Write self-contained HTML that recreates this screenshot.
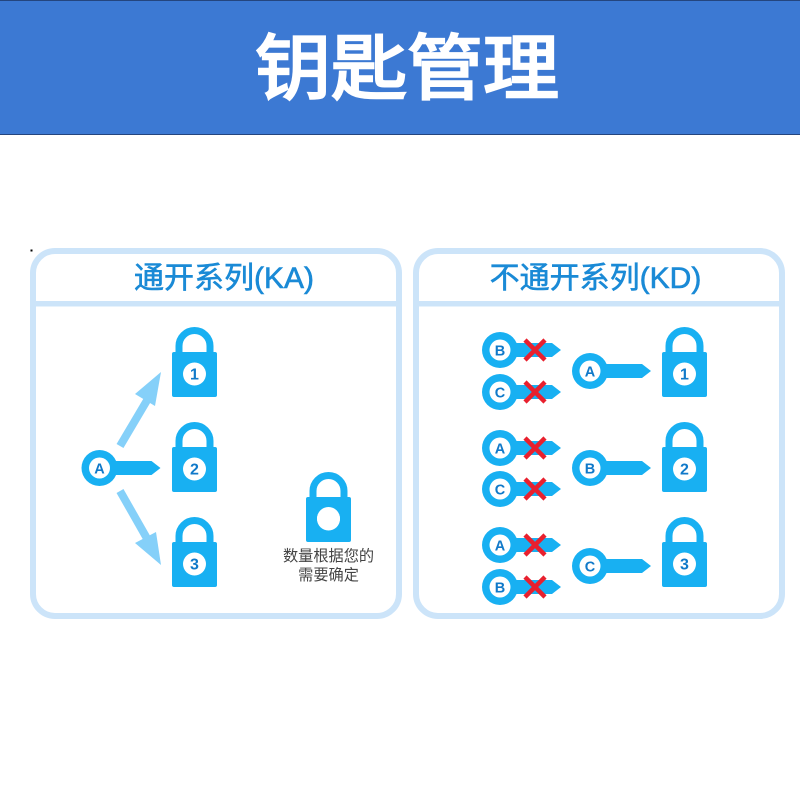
<!DOCTYPE html>
<html><head><meta charset="utf-8">
<style>
html,body{margin:0;padding:0;background:#fff;width:800px;height:800px;overflow:hidden}
svg{display:block}
text{font-family:"Liberation Sans","Noto Sans CJK SC",sans-serif}
.n{font-size:16px;font-weight:700;fill:#1079c9;text-anchor:middle}
.k{font-size:14.500px;font-weight:700;fill:#1079c9;text-anchor:middle}
.t{font-size:30px;font-weight:400;fill:#1a8ad6;stroke:#1a8ad6;stroke-width:.6px;text-anchor:middle}
.c{font-size:15.200px;fill:#444;text-anchor:middle}
</style></head><body>
<svg width="800" height="800" viewBox="0 0 800 800" xmlns="http://www.w3.org/2000/svg">
<defs>
<g id="lock">
<path d="M7 27V19a15.500 15.500 0 0 1 31 0V27" fill="none" stroke="#18b0f2" stroke-width="7"/>
<rect x="0" y="25" width="45" height="45" rx="2" fill="#18b0f2"/>
<circle cx="22.500" cy="47" r="11.500" fill="#fff"/>
</g>
<g id="key">
<circle cx="0" cy="0" r="18" fill="#18b0f2"/>
<path d="M14 -7H52L61 0L52 7H14Z" fill="#18b0f2"/>
<circle cx="0" cy="0" r="10.500" fill="#fff"/>
</g>
<g id="x"><path d="M-10 -10L10 10M10 -10L-10 10" stroke="#e8202e" stroke-width="4.500" fill="none"/></g>
</defs>

<rect x="0" y="0" width="800" height="135" fill="#3c79d3"/>
<rect x="0" y="0" width="800" height="1" fill="#24457e"/>
<rect x="0" y="134" width="800" height="1" fill="#24457e"/>
<text transform="translate(407 93.500) scale(1 .94)" x="0" y="0" text-anchor="middle" style="font-size:76px;font-weight:400;fill:#fff;stroke:#fff;stroke-width:2.600px">钥匙管理</text>

<rect x="33" y="251" width="366" height="365" rx="22" fill="#fff" stroke="#cce4f9" stroke-width="6"/>
<rect x="416" y="251" width="366" height="365" rx="22" fill="#fff" stroke="#cce4f9" stroke-width="6"/>
<rect x="33" y="301" width="366" height="5.500" fill="#cce4f9"/>
<rect x="416" y="301" width="366" height="5.500" fill="#cce4f9"/>
<rect x="30.500" y="249.500" width="2" height="2" fill="#000"/>

<text class="t" x="224" y="288">通开系列(KA)</text>
<text class="t" x="595.500" y="288">不通开系列(KD)</text>

<!-- left -->
<use href="#lock" x="172" y="327"/><text class="n" x="194.500" y="379.500">1</text>
<use href="#lock" x="172" y="422"/><text class="n" x="194.500" y="474.500">2</text>
<use href="#lock" x="172" y="517"/><text class="n" x="194.500" y="569.500">3</text>
<use href="#key" x="99.500" y="468"/><text class="k" x="99.500" y="473.500">A</text>
<path d="M120 446L149 397" stroke="#85d0f9" stroke-width="8" fill="none"/>
<path d="M161 372L135 394L155 406Z" fill="#85d0f9"/>
<path d="M120 491L149 542" stroke="#85d0f9" stroke-width="8" fill="none"/>
<path d="M161 565L135 543L156 532Z" fill="#85d0f9"/>

<use href="#lock" x="306" y="472"/>
<circle cx="328.500" cy="518.500" r="11.500" fill="#fff"/>
<text class="c" x="328.500" y="561">数量根据您的</text>
<text class="c" x="328.500" y="580">需要确定</text>

<!-- right -->
<use href="#lock" x="662" y="327"/><text class="n" x="684.500" y="379.500">1</text>
<use href="#lock" x="662" y="422"/><text class="n" x="684.500" y="474.500">2</text>
<use href="#lock" x="662" y="517"/><text class="n" x="684.500" y="569.500">3</text>

<use href="#key" x="590" y="371"/><text class="k" x="590" y="376.500">A</text>
<use href="#key" x="590" y="468"/><text class="k" x="590" y="473.500">B</text>
<use href="#key" x="590" y="566"/><text class="k" x="590" y="571.500">C</text>

<use href="#key" x="500" y="350"/><text class="k" x="500" y="355.500">B</text><use href="#x" x="535" y="350"/>
<use href="#key" x="500" y="392"/><text class="k" x="500" y="397.500">C</text><use href="#x" x="535" y="392"/>
<use href="#key" x="500" y="448"/><text class="k" x="500" y="453.500">A</text><use href="#x" x="535" y="448"/>
<use href="#key" x="500" y="489"/><text class="k" x="500" y="494.500">C</text><use href="#x" x="535" y="489"/>
<use href="#key" x="500" y="545"/><text class="k" x="500" y="550.500">A</text><use href="#x" x="535" y="545"/>
<use href="#key" x="500" y="587"/><text class="k" x="500" y="592.500">B</text><use href="#x" x="535" y="587"/>
</svg>
</body></html>
